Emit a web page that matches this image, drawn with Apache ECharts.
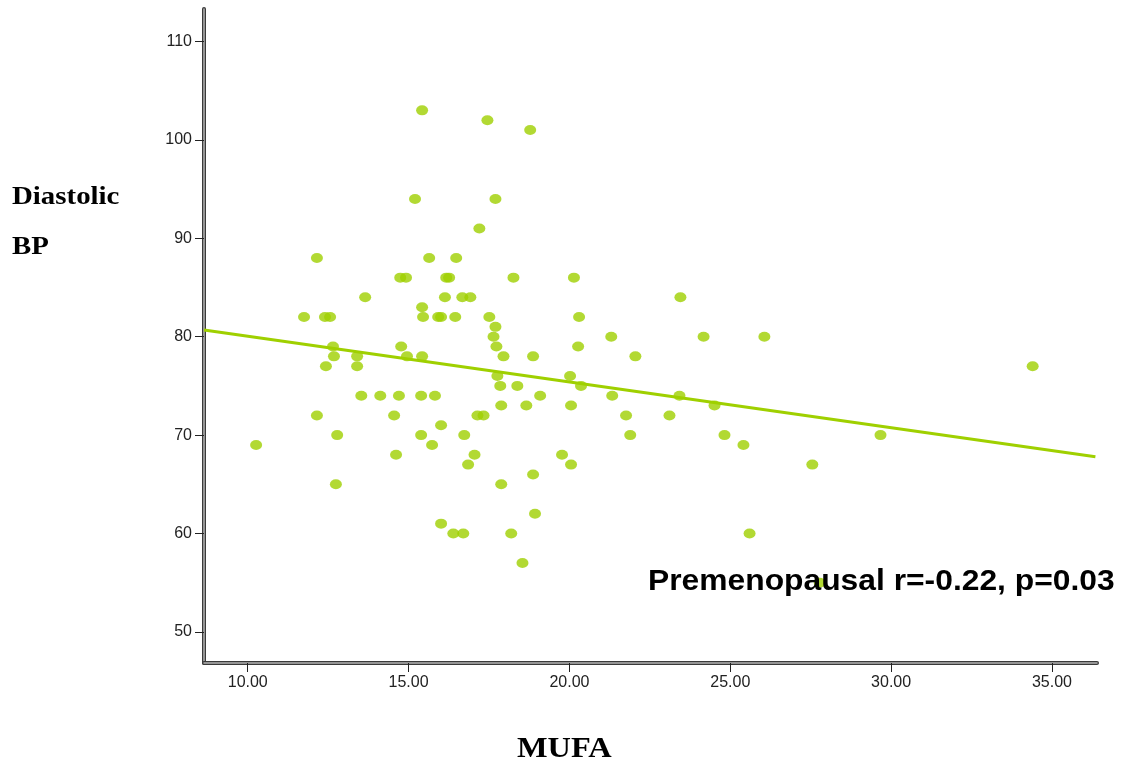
<!DOCTYPE html>
<html>
<head>
<meta charset="utf-8">
<script src="https://cdn.jsdelivr.net/npm/echarts@6/dist/echarts.min.js"></script>
<style>html,body{margin:0;padding:0;background:#fff}#c{width:1129px;height:769px}</style>
</head>
<body>
<div id="c"></div>
<script>
// MUFA (x) values
const mufa = [10.26,11.75,12.15,12.15,12.40,12.56,12.43,12.65,12.68,12.78,12.74,13.40,13.40,13.65,13.53,14.12,14.55,14.61,14.70,14.77,14.74,14.92,14.95,15.20,15.39,15.39,15.42,15.45,15.42,15.42,15.64,15.73,15.82,15.92,16.01,16.01,16.01,16.13,16.17,16.26,16.39,16.45,16.48,16.67,16.70,16.73,16.85,16.92,17.05,17.14,17.20,17.33,17.45,17.51,17.64,17.70,17.70,17.73,17.76,17.85,17.88,17.88,17.95,18.19,18.26,18.38,18.54,18.66,18.78,18.87,18.87,18.93,19.09,19.77,20.02,20.05,20.05,20.14,20.27,20.30,20.36,21.30,21.33,21.76,21.89,22.05,23.11,23.45,23.42,24.17,24.51,24.82,25.41,25.60,26.06,27.55,29.67,34.40,27.78];
// Diastolic BP (y) values
const dbp = [69,82,88,72,82,82,77,79,78,70,65,78,77,84,74,74,72,68,74,79,86,86,78,94,74,70,83,82,78,103,88,69,74,82,82,71,61,84,86,86,60,82,88,84,60,70,67,84,68,72,91,72,102,82,80,81,94,79,76,75,73,65,78,60,86,75,57,73,101,78,66,62,74,68,76,73,67,86,79,82,75,80,74,72,70,78,72,84,74,80,73,70,69,60,80,67,70,77,55];
// Fit line endpoints (x, y)
const fitX = [8.64, 36.35];
const fitY = [80.67, 67.79];
// Tick values
const xTicks = [10,15,20,25,30,35];
const yTicks = [50,60,70,80,90,100,110];
const xTitle = 'MUFA';
const yTitle = ['Diastolic', 'BP'];
const annotation = 'Premenopausal r=-0.22, p=0.03';

const green = '#9fd000';
const pts = mufa.map((x, i) => [x, dbp[i]]);
const fit = fitX.map((x, i) => [x, fitY[i]]);

const chart = echarts.init(document.getElementById('c'));
const baseX = {
  type: 'value', min: 8.64, max: 36.4, position: 'bottom',
  splitLine: {show: false}
};
const baseY = {
  type: 'value', min: 46.84, max: 113.3, position: 'left',
  splitLine: {show: false}
};
chart.setOption({
  animation: false,
  backgroundColor: '#fff',
  grid: {left: 204, right: 32, top: 9, bottom: 106, containLabel: false},
  xAxis: [
    Object.assign({}, baseX, {
      axisLine: {show: true, lineStyle: {color: '#3a3a3a', width: 4}},
      axisTick: {show: true, length: 9, customValues: xTicks, lineStyle: {color: '#222', width: 1}},
      axisLabel: {show: true, customValues: xTicks, margin: 12, color: '#222', fontSize: 16,
        fontFamily: 'Liberation Sans', formatter: v => Number(v).toFixed(2)}
    }),
    Object.assign({}, baseX, {
      axisLine: {show: true, lineStyle: {color: '#b4b4b4', width: 1.5}},
      axisTick: {show: false}, axisLabel: {show: false}
    })
  ],
  yAxis: [
    Object.assign({}, baseY, {
      axisLine: {show: true, lineStyle: {color: '#3a3a3a', width: 4}},
      axisTick: {show: true, length: 9, customValues: yTicks, lineStyle: {color: '#222', width: 1}},
      axisLabel: {show: true, customValues: yTicks, margin: 12, color: '#222', fontSize: 16,
        fontFamily: 'Liberation Sans', formatter: v => String(v)}
    }),
    Object.assign({}, baseY, {
      axisLine: {show: true, lineStyle: {color: '#b4b4b4', width: 1.5}},
      axisTick: {show: false}, axisLabel: {show: false}
    })
  ],
  series: [
    {
      type: 'line', data: fit, xAxisIndex: 0, yAxisIndex: 0,
      symbol: 'none', lineStyle: {color: green, width: 3}, z: 2
    },
    {
      type: 'scatter', data: pts, xAxisIndex: 0, yAxisIndex: 0,
      symbol: 'circle', symbolSize: [12, 10],
      itemStyle: {color: green}, z: 3
    }
  ],
  graphic: [
    {type: 'text', x: 12, y: 184, scaleX: 1.11, z: 100, style: {text: yTitle[0], font: 'bold 26px "Liberation Serif"', fill: '#000', verticalAlign: 'top'}},
    {type: 'text', x: 12, y: 234, scaleX: 1.11, z: 100, style: {text: yTitle[1], font: 'bold 26px "Liberation Serif"', fill: '#000', verticalAlign: 'top'}},
    {type: 'text', x: 517, y: 734, scaleX: 1.08, z: 100, style: {text: xTitle, font: 'bold 30px "Liberation Serif"', fill: '#000', verticalAlign: 'top'}},
    {type: 'text', x: 648, y: 567, scaleX: 1.06, z: 100, style: {text: annotation, font: 'bold 30px "Liberation Sans"', fill: '#000', verticalAlign: 'top'}}
  ]
});
</script>
</body>
</html>
